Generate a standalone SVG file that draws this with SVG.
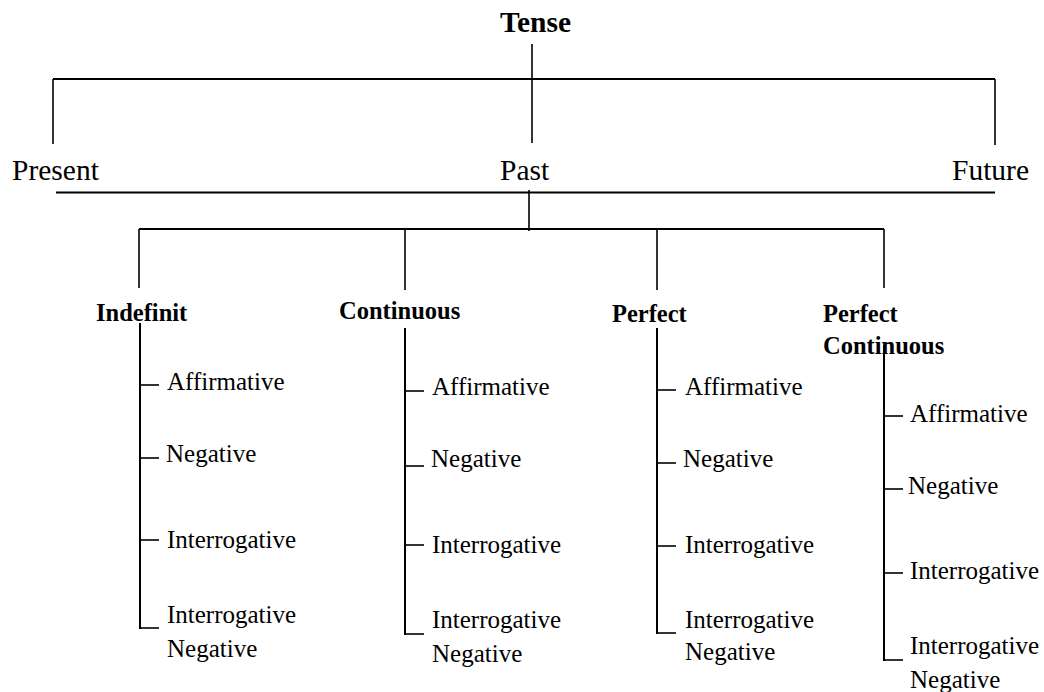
<svg xmlns="http://www.w3.org/2000/svg" width="1044" height="692" viewBox="0 0 1044 692">
  <style>
    text { font-family: "Liberation Serif", "Times New Roman", serif; fill: #000; }
    .root { font-size: 29.5px; font-weight: bold; }
    .top { font-size: 29.5px; }
    .branch { font-size: 24.5px; font-weight: bold; }
    .leaf { font-size: 25px; }
    .bar { stroke: #000; stroke-width: 2.2; fill: none; }
    .stem { stroke: #000; stroke-width: 1.6; fill: none; }
    .spine { stroke: #000; stroke-width: 2; fill: none; }
    .tick { stroke: #000; stroke-width: 1.6; fill: none; }
  </style>
  <rect width="1044" height="692" fill="#fff"/>

  <!-- connectors -->
  <g id="connectors">
    <!-- Tense to Present / Past / Future -->
    <line class="stem" x1="532" y1="44" x2="532" y2="143"/>
    <line class="bar" x1="53" y1="79" x2="995" y2="79"/>
    <line class="stem" x1="53" y1="79" x2="53" y2="144"/>
    <line class="stem" x1="995" y1="79" x2="995" y2="145"/>
    <!-- rule under the three tenses -->
    <line class="bar" x1="56" y1="192.5" x2="995" y2="192.5"/>
    <!-- Past to its four aspects -->
    <line class="stem" x1="529" y1="190" x2="529" y2="231"/>
    <line class="bar" x1="139" y1="229" x2="884" y2="229"/>
    <line class="stem" x1="139" y1="229" x2="139" y2="288"/>
    <line class="stem" x1="405" y1="229" x2="405" y2="290"/>
    <line class="stem" x1="657" y1="229" x2="657" y2="290"/>
    <line class="stem" x1="884" y1="229" x2="884" y2="288"/>

    <!-- Indefinit list -->
    <line class="spine" x1="140" y1="323" x2="140" y2="629"/>
    <line class="tick" x1="140" y1="385" x2="159" y2="385"/>
    <line class="tick" x1="140" y1="458" x2="159" y2="458"/>
    <line class="tick" x1="140" y1="540" x2="159" y2="540"/>
    <line class="tick" x1="140" y1="628" x2="159" y2="628"/>

    <!-- Continuous list -->
    <line class="spine" x1="405" y1="328" x2="405" y2="635"/>
    <line class="tick" x1="405" y1="391" x2="424" y2="391"/>
    <line class="tick" x1="405" y1="466" x2="424" y2="466"/>
    <line class="tick" x1="405" y1="545" x2="424" y2="545"/>
    <line class="tick" x1="405" y1="634" x2="424" y2="634"/>

    <!-- Perfect list -->
    <line class="spine" x1="657" y1="328" x2="657" y2="634"/>
    <line class="tick" x1="657" y1="390" x2="676" y2="390"/>
    <line class="tick" x1="657" y1="463" x2="676" y2="463"/>
    <line class="tick" x1="657" y1="546" x2="676" y2="546"/>
    <line class="tick" x1="657" y1="633" x2="676" y2="633"/>

    <!-- Perfect Continuous list -->
    <line class="spine" x1="884" y1="345" x2="884" y2="661"/>
    <line class="tick" x1="884" y1="416" x2="903" y2="416"/>
    <line class="tick" x1="884" y1="489" x2="903" y2="489"/>
    <line class="tick" x1="884" y1="573" x2="903" y2="573"/>
    <line class="tick" x1="884" y1="660" x2="903" y2="660"/>
  </g>

  <g id="tense"><text class="root" x="500" y="32">Tense</text></g>
  <g id="present"><text class="top" x="12" y="180">Present</text></g>
  <g id="past"><text class="top" x="500" y="180">Past</text></g>
  <g id="future"><text class="top" x="952" y="180">Future</text></g>

  <g id="indefinit">
    <text class="branch" x="96" y="321">Indefinit</text>
    <text class="leaf" x="167" y="390">Affirmative</text>
    <text class="leaf" x="166" y="462">Negative</text>
    <text class="leaf" x="167" y="548">Interrogative</text>
    <text class="leaf" x="167" y="623">Interrogative</text>
    <text class="leaf" x="167" y="657">Negative</text>
  </g>

  <g id="continuous">
    <text class="branch" x="339" y="319">Continuous</text>
    <text class="leaf" x="432" y="395">Affirmative</text>
    <text class="leaf" x="431" y="467">Negative</text>
    <text class="leaf" x="432" y="553">Interrogative</text>
    <text class="leaf" x="432" y="628">Interrogative</text>
    <text class="leaf" x="432" y="662">Negative</text>
  </g>

  <g id="perfect">
    <text class="branch" x="612" y="322">Perfect</text>
    <text class="leaf" x="685" y="395">Affirmative</text>
    <text class="leaf" x="683" y="467">Negative</text>
    <text class="leaf" x="685" y="553">Interrogative</text>
    <text class="leaf" x="685" y="628">Interrogative</text>
    <text class="leaf" x="685" y="660">Negative</text>
  </g>

  <g id="perfect-continuous">
    <text class="branch" x="823" y="322">Perfect</text>
    <text class="branch" x="823" y="354">Continuous</text>
    <text class="leaf" x="910" y="422">Affirmative</text>
    <text class="leaf" x="908" y="494">Negative</text>
    <text class="leaf" x="910" y="579">Interrogative</text>
    <text class="leaf" x="910" y="654">Interrogative</text>
    <text class="leaf" x="910" y="688">Negative</text>
  </g>
</svg>
